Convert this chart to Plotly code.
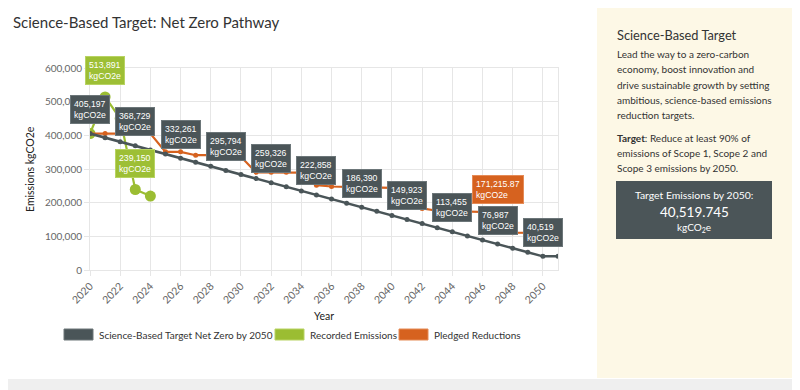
import plotly.graph_objects as go

# ---------------- data ----------------
years = list(range(2020, 2052))
target = [405197, 393042, 380886, 368730, 356574, 344418, 332262, 320106,
          307950, 295794, 283638, 271482, 259326, 247170, 235015, 222859,
          210703, 198547, 186391, 174235, 162079, 149923, 137767, 125611,
          113455, 101299, 89143, 76988, 64832, 52676, 40520, 40520]
target_label_years = [2020, 2023, 2026, 2029, 2032, 2035, 2038, 2041, 2044, 2047, 2050]
target_label_values = [405197, 368729, 332261, 295794, 259326, 222858,
                       186390, 149923, 113455, 76987, 40519]

rec_years = [2020, 2021, 2022, 2023, 2024]
recorded = [405197, 513891, 450000, 239150, 219500]
rec_label_years = [2021, 2023]
rec_label_values = [513891, 239150]

pledge_years = list(range(2020, 2051))
pledged = [405197, 405197, 405197, 405197, 405197, 351000, 351000, 341000,
           341000, 338500, 336500, 290000, 290000, 290000, 289000, 252000,
           248000, 247000, 246000, 245000, 244000, 215000, 183000, 176000,
           174500, 173000, 172000, 171215.87, 111000, 110500, 110000]
pledge_label_years = [2047]
pledge_label_values = [171215.87]

y_ticks = [0, 100000, 200000, 300000, 400000, 500000, 600000]
x_ticks = list(range(2020, 2051, 2))

series_names = ["Science-Based Target Net Zero by 2050", "Recorded Emissions", "Pledged Reductions"]

# ---------------- style ----------------
DARK = "#4a5558"
GREEN = "#9bbd32"
ORANGE = "#d6621f"
GRID = "#e6e6e6"
FONT = "Lato"
LABEL_FONT = "Liberation Sans"

# page body has an 8px margin: the figure starts at screen (8, 8)
OFF = 8
SCREEN_W, SCREEN_H = 800, 390
W, H = SCREEN_W - OFF, SCREEN_H - OFF
# plot area in screen pixels
L, R, T, B = 90, 558, 68, 270


def px(x):
    return (x - L) / (R - L)


def py(y):
    return (B - y) / (B - T)


fig = go.Figure()
fig.add_trace(go.Scatter(x=rec_years, y=recorded, mode="lines+markers",
                         line=dict(color=GREEN, width=2.2),
                         marker=dict(size=11, color=GREEN),
                         name=series_names[1], showlegend=False, hoverinfo="skip"))
fig.add_trace(go.Scatter(x=pledge_years, y=pledged, mode="lines+markers",
                         line=dict(color=ORANGE, width=2.2),
                         marker=dict(size=5, color=ORANGE),
                         name=series_names[2], showlegend=False, hoverinfo="skip"))
fig.add_trace(go.Scatter(x=years, y=target, mode="lines+markers",
                         line=dict(color=DARK, width=2.5),
                         marker=dict(size=5, color=DARK),
                         name=series_names[0], showlegend=False, hoverinfo="skip"))

annotations = []


def box_label(xv, yv, text, bg, border, shift):
    annotations.append(dict(
        x=xv, y=yv, xref="x", yref="y", text=text, showarrow=False,
        xanchor="center", yanchor="middle", yshift=shift, align="left",
        bgcolor=bg, bordercolor=border, borderwidth=1, borderpad=3,
        font=dict(family=LABEL_FONT, size=8.7, color="white")))


for yr, v in zip(target_label_years, target_label_values):
    box_label(yr, target[years.index(yr)], f"{v:,}<br>kgCO2e", "#4b5558", "#6c7679", 24)
for yr, v in zip(rec_label_years, rec_label_values):
    box_label(yr, recorded[rec_years.index(yr)], f"{v:,}<br>kgCO2e", "#9dbf35", "#b8d362", 26)
for yr, v in zip(pledge_label_years, pledge_label_values):
    box_label(yr, pledged[pledge_years.index(yr)], f"{v:,.2f}<br>kgCO2e", "#d6621f", "#e58b57", 23)

# title
annotations.append(dict(x=px(11), y=py(22), xref="paper", yref="paper",
                        text="Science-Based Target: Net Zero Pathway", showarrow=False,
                        xanchor="left", yanchor="middle",
                        font=dict(family=FONT, size=15, color="#333333")))

# legend (manual)
shapes = []
legend_items = [(64, DARK, "#6c7679", series_names[0]),
                (275, GREEN, "#b8d362", series_names[1]),
                (399, ORANGE, "#e58b57", series_names[2])]
for x0, col, bcol, name in legend_items:
    shapes.append(dict(type="rect", xref="paper", yref="paper",
                       x0=px(x0), x1=px(x0 + 29), y0=py(340), y1=py(329),
                       fillcolor=col, line=dict(color=bcol, width=1)))
    annotations.append(dict(x=px(x0 + 33), y=py(334.5), xref="paper", yref="paper",
                            text=name, showarrow=False, xanchor="left", yanchor="middle",
                            font=dict(family=FONT, size=10, color="#333333")))

# right panel
shapes.append(dict(type="rect", xref="paper", yref="paper", layer="below",
                   x0=px(597), x1=px(800), y0=py(378), y1=py(8),
                   fillcolor="#fdf8e6", line=dict(width=0)))
shapes.append(dict(type="rect", xref="paper", yref="paper", layer="below",
                   x0=px(0), x1=px(800), y0=py(390), y1=py(379),
                   fillcolor="#efefef", line=dict(width=0)))
shapes.append(dict(type="rect", xref="paper", yref="paper",
                   x0=px(616), x1=px(772), y0=py(239), y1=py(181),
                   fillcolor="#4b5558", line=dict(width=0)))

annotations.append(dict(x=px(615), y=py(35), xref="paper", yref="paper",
                        text="Science-Based Target", showarrow=False,
                        xanchor="left", yanchor="middle",
                        font=dict(family=FONT, size=12.8, color="#333333")))
para = [(54, "Lead the way to a zero-carbon"),
        (69, "economy, boost innovation and"),
        (84.5, "drive sustainable growth by setting"),
        (99.5, "ambitious, science-based emissions"),
        (114.5, "reduction targets."),
        (137.5, "<b>Target</b>: Reduce at least 90% of"),
        (152.5, "emissions of Scope 1, Scope 2 and"),
        (167.5, "Scope 3 emissions by 2050.")]
for yy, t in para:
    annotations.append(dict(x=px(615), y=py(yy), xref="paper", yref="paper",
                            text=t, showarrow=False, xanchor="left", yanchor="middle",
                            font=dict(family=FONT, size=10, color="#333333")))
annotations.append(dict(x=px(694), y=py(195), xref="paper", yref="paper",
                        text="Target Emissions by 2050:", showarrow=False,
                        xanchor="center", yanchor="middle",
                        font=dict(family=FONT, size=10.4, color="white")))
annotations.append(dict(x=px(694), y=py(211.5), xref="paper", yref="paper",
                        text="40,519.745", showarrow=False,
                        xanchor="center", yanchor="middle",
                        font=dict(family=FONT, size=13.5, color="white")))
annotations.append(dict(x=px(694), y=py(227), xref="paper", yref="paper",
                        text="kgCO<sub>2</sub>e", showarrow=False,
                        xanchor="center", yanchor="middle",
                        font=dict(family=FONT, size=10, color="white")))

# axis titles
annotations.append(dict(x=px(30), y=py(169), xref="paper", yref="paper",
                        text="Emissions kgCO2e", showarrow=False, textangle=-90,
                        xanchor="center", yanchor="middle",
                        font=dict(family=FONT, size=10.5, color="#222222")))
annotations.append(dict(x=px(324), y=py(316), xref="paper", yref="paper",
                        text="Year", showarrow=False,
                        xanchor="center", yanchor="middle",
                        font=dict(family=FONT, size=10.5, color="#222222")))

fig.update_layout(
    width=W, height=H, autosize=False,
    margin=dict(l=L - OFF, r=SCREEN_W - R, t=T - OFF, b=SCREEN_H - B, pad=0),
    paper_bgcolor="white", plot_bgcolor="white",
    showlegend=False,
    annotations=annotations, shapes=shapes,
    xaxis=dict(range=[2020, 2051], tickvals=x_ticks, ticktext=[str(v) for v in x_ticks],
               tickangle=-45, showgrid=True, gridcolor=GRID, gridwidth=1,
               showline=True, linecolor=GRID, mirror=True, zeroline=False,
               ticks="outside", ticklen=5, tickcolor=GRID, automargin=False,
               tickfont=dict(family=FONT, size=10.5, color="#666666")),
    yaxis=dict(range=[0, 600000], tickvals=y_ticks, tickformat=",",
               showgrid=True, gridcolor=GRID, gridwidth=1,
               showline=True, linecolor=GRID, mirror=True, zeroline=False,
               ticks="outside", ticklen=5, tickcolor=GRID, automargin=False,
               tickfont=dict(family=FONT, size=10, color="#666666")),
)

fig.write_html("out.html")
